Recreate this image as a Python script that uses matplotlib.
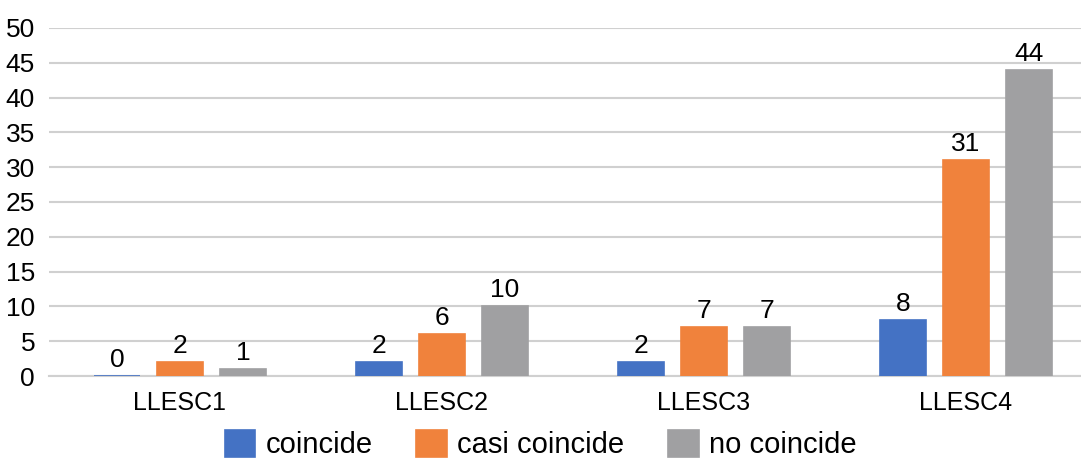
import matplotlib
matplotlib.use("Agg")
import matplotlib.pyplot as plt
import numpy as np

categories = ["LLESC1", "LLESC2", "LLESC3", "LLESC4"]
series = ["coincide", "casi coincide", "no coincide"]
coincide = [0, 2, 2, 8]
casi_coincide = [2, 6, 7, 31]
no_coincide = [1, 10, 7, 44]
colors = ["#4472C4", "#F0823C", "#A0A0A2"]

plt.rcParams["font.family"] = ["Liberation Sans", "DejaVu Sans"]

fig = plt.figure(figsize=(10.81, 4.58), dpi=100)
ax = fig.add_axes([0.0453, 0.179, 0.9695, 0.760])

x = np.arange(len(categories))
width = 0.176
step = 0.24
for i, (name, vals) in enumerate(zip(series, [coincide, casi_coincide, no_coincide])):
    pos = x + (i - 1) * step
    bars = ax.bar(pos, vals, width, color=colors[i], edgecolor=colors[i],
                  linewidth=1.2, label=name, zorder=3)
    for b, v in zip(bars, vals):
        ax.annotate(str(v), (b.get_x() + b.get_width() / 2, v),
                    xytext=(0, 3), textcoords="offset points",
                    ha="center", va="bottom", fontsize=19)

ax.set_xlim(-0.5, 3.5)
ax.set_ylim(0, 50)
ax.set_yticks(range(0, 51, 5))
ax.set_xticks(x)
ax.set_xticklabels(categories, fontsize=18)
ax.tick_params(axis="y", length=0, pad=10, labelsize=19)
ax.tick_params(axis="x", length=0, pad=11)
ax.grid(axis="y", color="#D0D0D0", linewidth=1.5, zorder=0)
for s in ["top", "right", "left"]:
    ax.spines[s].set_visible(False)
ax.spines["bottom"].set_color("#D0D0D0")
ax.spines["bottom"].set_linewidth(1.5)
ax.spines["bottom"].set_zorder(1)

fig.legend(loc="center", bbox_to_anchor=(0.5, 0.03), ncol=3, frameon=False,
           fontsize=21, handlelength=1.05, handleheight=1.05, handletextpad=0.35,
           columnspacing=1.5)

fig.savefig("out.png", dpi=100)
